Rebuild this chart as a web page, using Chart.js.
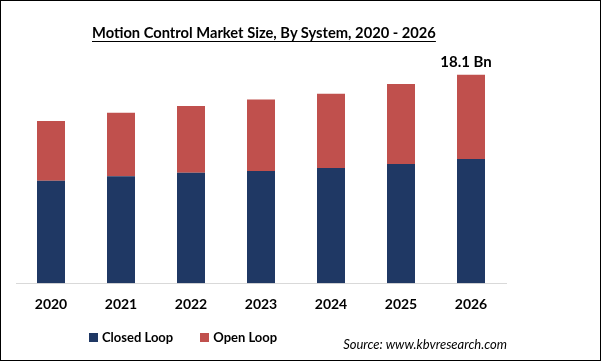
<!DOCTYPE html>
<html>
<head>
<meta charset="utf-8">
<script src="https://cdn.jsdelivr.net/npm/chart.js@4"></script>
<style>
    html, body { margin: 0; padding: 0; background: #fff; }
    #frame {
        position: absolute; left: 0; top: 0;
        width: 599px; height: 359px;
        border: 1px solid #000;
        overflow: hidden;
    }
    #chart { position: absolute; left: -1px; top: -1px; }
    #title {
        position: absolute; left: 91px; top: 22px;
        white-space: nowrap;
        font: bold 14.7px Lato, sans-serif;
        text-decoration: underline;
        text-underline-offset: 3px;
        color: #000;
    }
    #legend {
        position: absolute; left: 88px; top: 328px;
        font: bold 13px Lato, sans-serif;
        color: #000;
        display: flex;
    }
    .item { display: flex; align-items: center; margin-right: 27px; }
    .box { width: 9px; height: 9px; margin-right: 4px; }
    #source {
        position: absolute; right: 93px; top: 335px;
        font: italic 13px Lato, sans-serif;
        color: #000;
    }
</style>
</head>
<body>
<div id="frame">
    <canvas id="chart" width="601" height="361"></canvas>
    <div id="title">Motion Control Market Size, By System, 2020 - 2026</div>
    <div id="legend"></div>
    <div id="source">Source: www.kbvresearch.com</div>
</div>
<script>
// データ（画像から読み取った推定値, 単位: USD Bn）
const years = ['2020', '2021', '2022', '2023', '2024', '2025', '2026'];
const closedLoop = [8.9, 9.3, 9.6, 9.75, 10.0, 10.35, 10.8];
const openLoop = [5.2, 5.5, 5.8, 6.2, 6.45, 6.95, 7.3];
const seriesNames = ['Closed Loop', 'Open Loop'];
const seriesColors = ['#1f3864', '#c0504d'];
const lastLabel = '18.1 Bn';

// 凡例
const legend = document.getElementById('legend');
seriesNames.forEach((name, i) => {
    const item = document.createElement('div');
    item.className = 'item';
    item.innerHTML = `<span class="box" style="background:${seriesColors[i]}"></span>${name}`;
    legend.appendChild(item);
});

// 最終年の合計ラベル
const totalLabelPlugin = {
    id: 'totalLabel',
    afterDatasetsDraw(chart) {
        const meta = chart.getDatasetMeta(1);
        const bar = meta.data[meta.data.length - 1];
        const ctx = chart.ctx;
        ctx.save();
        ctx.font = 'bold 15px Lato, sans-serif';
        ctx.fillStyle = '#000';
        ctx.textAlign = 'center';
        ctx.textBaseline = 'bottom';
        ctx.fillText(lastLabel, bar.x - 5, bar.y - 5);
        ctx.restore();
    }
};

new Chart(document.getElementById('chart'), {
    type: 'bar',
    data: {
        labels: years,
        datasets: [{
            label: seriesNames[0],
            data: closedLoop,
            backgroundColor: seriesColors[0]
        }, {
            label: seriesNames[1],
            data: openLoop,
            backgroundColor: seriesColors[1]
        }]
    },
    options: {
        responsive: false,
        animation: false,
        layout: {
            padding: { left: 16, right: 95, top: 53, bottom: 35 }
        },
        datasets: {
            bar: { barPercentage: 0.4, categoryPercentage: 1 }
        },
        plugins: {
            legend: { display: false },
            title: { display: false },
            tooltip: { enabled: false }
        },
        scales: {
            x: {
                stacked: true,
                grid: { display: false, drawTicks: false },
                border: { display: true, color: '#d9d9d9', width: 1 },
                ticks: {
                    color: '#000',
                    padding: 13,
                    font: { family: 'Lato', size: 14, weight: 'bold' }
                }
            },
            y: {
                stacked: true,
                display: false,
                min: 0,
                max: 20
            }
        }
    },
    plugins: [totalLabelPlugin]
});
</script>
</body>
</html>
